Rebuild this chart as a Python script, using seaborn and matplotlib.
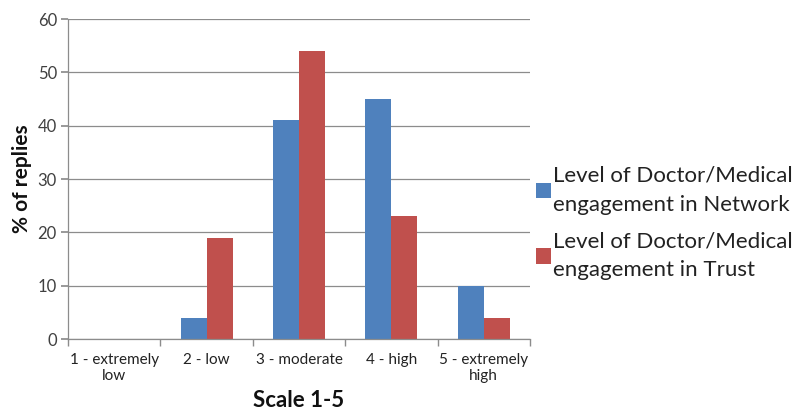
import matplotlib
matplotlib.use("Agg")
import matplotlib.pyplot as plt
import seaborn as sns
import pandas as pd
import numpy as np

categories = ["1 - extremely\nlow", "2 - low", "3 - moderate", "4 - high", "5 - extremely\nhigh"]
network_values = [0, 4, 41, 45, 10]
trust_values = [0, 19, 54, 23, 4]
series_names = ["Level of Doctor/Medical\nengagement in Network",
                "Level of Doctor/Medical\nengagement in Trust"]
y_ticks = [0, 10, 20, 30, 40, 50, 60]

df = pd.DataFrame({
    "scale": categories * 2,
    "pct": network_values + trust_values,
    "series": [series_names[0]] * len(categories) + [series_names[1]] * len(categories),
})

sns.set_theme(style="white")
plt.rcParams["font.family"] = ["Lato", "DejaVu Sans"]

fig = plt.figure(figsize=(8.02, 4.16), dpi=100)
ax = fig.add_axes([0.0848, 0.185, 0.576, 0.769])

palette = {series_names[0]: "#4F81BD", series_names[1]: "#C0504D"}
sns.barplot(data=df, x="scale", y="pct", hue="series", order=categories,
            hue_order=series_names, palette=palette, width=0.5625, gap=0,
            saturation=1, linewidth=0, ax=ax, legend=True)

ax.set_ylim(0, 60)
ax.set_xlim(-0.5, len(categories) - 0.5)
ax.set_yticks(y_ticks)
ax.yaxis.grid(True, color="#8c8c8c", linewidth=0.9)
ax.set_axisbelow(True)

for side in ["top", "right"]:
    ax.spines[side].set_visible(False)
for side in ["left", "bottom"]:
    ax.spines[side].set_color("#8c8c8c")
    ax.spines[side].set_linewidth(0.9)

ax.tick_params(axis="y", which="major", left=True, length=5, color="#8c8c8c",
               labelsize=12, labelcolor="#404040", pad=3)
ax.tick_params(axis="x", which="major", bottom=False, labelsize=11,
               labelcolor="#222222", pad=4)
for lbl in ax.get_xticklabels():
    lbl.set_linespacing(1.2)
ax.set_xticks(np.arange(-0.5, len(categories), 1.0), minor=True)
ax.tick_params(axis="x", which="minor", bottom=True, length=5, color="#8c8c8c")

ax.set_xlabel("Scale 1-5", fontsize=16, fontweight="bold", color="#111111", labelpad=5)
ax.set_ylabel("% of replies", fontsize=15, fontweight="bold", color="#111111", labelpad=4)

handles, labels = ax.get_legend_handles_labels()
ax.get_legend().remove()
leg = fig.legend(handles, labels, loc="center left", bbox_to_anchor=(0.643, 0.464),
                 frameon=False, fontsize=16, handlelength=0.7, handleheight=0.7,
                 handletextpad=0.1, labelspacing=0.75, labelcolor="#222222")
for txt in leg.get_texts():
    txt.set_linespacing(1.55)

fig.savefig("out.png", dpi=100)
